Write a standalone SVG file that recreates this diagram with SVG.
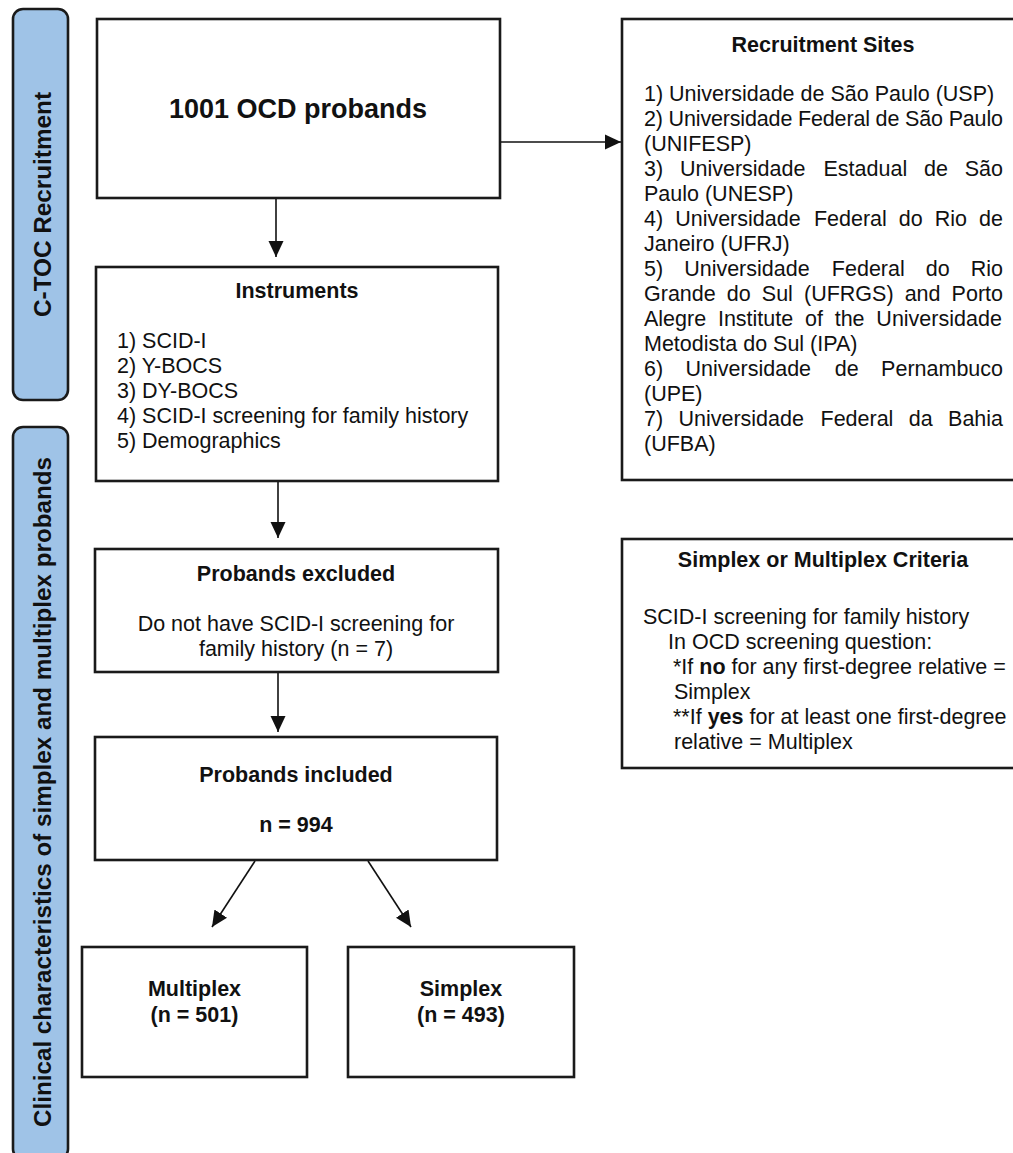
<svg xmlns="http://www.w3.org/2000/svg" width="1013" height="1153" viewBox="0 0 1013 1153">
<style>
.box{fill:#fff;stroke:#1a1a1a;stroke-width:2.6}
.side{fill:#9fc3e7;stroke:#1a1a1a;stroke-width:2.6}
.t{font-family:"Liberation Sans",Arial,sans-serif;font-size:21.5px;fill:#111}
.b{font-weight:bold}
.c{text-anchor:middle}
.big{font-size:27px}
.s1{font-size:24px}
.s2{font-size:24px}
.conn{stroke:#111;stroke-width:1.6;fill:none;marker-end:url(#ah)}
</style>
<defs>
<marker id="ah" markerUnits="userSpaceOnUse" markerWidth="17" markerHeight="17" viewBox="0 0 17 17" refX="16" refY="8.5" orient="auto">
<path d="M0,1 L16,8.5 L0,16 Z" fill="#111"/>
</marker>
</defs>
<rect width="1013" height="1153" fill="#fff"/>

<g id="side-recruitment">
<rect class="side" x="13" y="9" width="55" height="391" rx="10"/>
<text class="t b c s1" textLength="225" lengthAdjust="spacingAndGlyphs" transform="translate(51,204.5) rotate(-90)">C-TOC Recruitment</text>
</g>
<g id="side-clinical">
<rect class="side" x="13" y="427" width="55" height="732" rx="10"/>
<text class="t b c s2" textLength="670" lengthAdjust="spacingAndGlyphs" transform="translate(51,792) rotate(-90)">Clinical characteristics of simplex and multiplex probands</text>
</g>

<g id="connectors">
<line class="conn" x1="276" y1="198" x2="276" y2="257"/>
<line class="conn" x1="500" y1="142" x2="621" y2="142"/>
<line class="conn" x1="278" y1="481" x2="278" y2="538"/>
<line class="conn" x1="278" y1="672" x2="278" y2="732"/>
<line class="conn" x1="255" y1="861" x2="212" y2="927"/>
<line class="conn" x1="368" y1="861" x2="411" y2="927"/>
</g>

<g id="probands">
<rect class="box" x="97" y="19" width="403" height="179"/>
<text class="t b c big" x="298" y="118">1001 OCD probands</text>
</g>

<g id="recruitment-sites">
<rect class="box" x="622" y="19" width="410" height="461"/>
<text class="t b c" x="823" y="52">Recruitment Sites</text>
<text class="t" x="644" y="101">1) Universidade de São Paulo (USP)</text>
<text class="t" x="644" y="126" textLength="359" lengthAdjust="spacing">2) Universidade Federal de São Paulo</text>
<text class="t" x="644" y="151">(UNIFESP)</text>
<text class="t" y="176"><tspan x="644">3)</tspan><tspan x="679.97">Universidade</tspan><tspan x="823.49">Estadual</tspan><tspan x="924.01">de</tspan><tspan x="964.78">São</tspan></text>
<text class="t" x="644" y="201">Paulo (UNESP)</text>
<text class="t" y="226"><tspan x="644">4)</tspan><tspan x="675.17">Universidade</tspan><tspan x="813.89">Federal</tspan><tspan x="898.84">do</tspan><tspan x="934.81">Rio</tspan><tspan x="979.12">de</tspan></text>
<text class="t" x="644" y="251">Janeiro (UFRJ)</text>
<text class="t" y="276"><tspan x="644">5)</tspan><tspan x="684.16">Universidade</tspan><tspan x="831.87">Federal</tspan><tspan x="925.81">do</tspan><tspan x="970.77">Rio</tspan></text>
<text class="t" y="301"><tspan x="644">Grande</tspan><tspan x="726.8">do</tspan><tspan x="761.81">Sul</tspan><tspan x="803.98">(UFRGS)</tspan><tspan x="904.65">and</tspan><tspan x="951.61">Porto</tspan></text>
<text class="t" y="326"><tspan x="644">Alegre</tspan><tspan x="717.92">Institute</tspan><tspan x="804.99">of</tspan><tspan x="834.7">the</tspan><tspan x="876.37">Universidade</tspan></text>
<text class="t" x="644" y="351">Metodista do Sul (IPA)</text>
<text class="t" y="376"><tspan x="644">6)</tspan><tspan x="685.59">Universidade</tspan><tspan x="834.73">de</tspan><tspan x="881.12">Pernambuco</tspan></text>
<text class="t" x="644" y="401">(UPE)</text>
<text class="t" y="426"><tspan x="644">7)</tspan><tspan x="678.48">Universidade</tspan><tspan x="820.51">Federal</tspan><tspan x="908.77">da</tspan><tspan x="948.05">Bahia</tspan></text>
<text class="t" x="644" y="451">(UFBA)</text>
</g>

<g id="instruments">
<rect class="box" x="96" y="267" width="402" height="214"/>
<text class="t b c" x="297" y="298">Instruments</text>
<text class="t" x="117" y="348">1) SCID-I</text>
<text class="t" x="117" y="373">2) Y-BOCS</text>
<text class="t" x="117" y="398">3) DY-BOCS</text>
<text class="t" x="117" y="423">4) SCID-I screening for family history</text>
<text class="t" x="117" y="448">5) Demographics</text>
</g>

<g id="excluded">
<rect class="box" x="95" y="549" width="403" height="123"/>
<text class="t b c" x="296" y="581">Probands excluded</text>
<text class="t c" x="296" y="631">Do not have SCID-I screening for</text>
<text class="t c" x="296" y="656">family history (n = 7)</text>
</g>

<g id="included">
<rect class="box" x="95" y="737" width="402" height="123"/>
<text class="t b c" x="296" y="782">Probands included</text>
<text class="t b c" x="296" y="832">n = 994</text>
</g>

<g id="multiplex">
<rect class="box" x="82" y="947" width="225" height="130"/>
<text class="t b c" x="194.5" y="996">Multiplex</text>
<text class="t b c" x="194.5" y="1022">(n = 501)</text>
</g>

<g id="simplex">
<rect class="box" x="348" y="947" width="226" height="130"/>
<text class="t b c" x="461" y="996">Simplex</text>
<text class="t b c" x="461" y="1022">(n = 493)</text>
</g>

<g id="criteria">
<rect class="box" x="622" y="539" width="410" height="229"/>
<text class="t b c" x="823" y="567">Simplex or Multiplex Criteria</text>
<text class="t" x="643" y="624">SCID-I screening for family history</text>
<text class="t" x="668" y="649">In OCD screening question:</text>
<text class="t" x="673" y="674">*If <tspan class="b">no</tspan> for any first-degree relative =</text>
<text class="t" x="674" y="699">Simplex</text>
<text class="t" x="673" y="724">**If <tspan class="b">yes</tspan> for at least one first-degree</text>
<text class="t" x="674" y="749">relative = Multiplex</text>
</g>
</svg>
